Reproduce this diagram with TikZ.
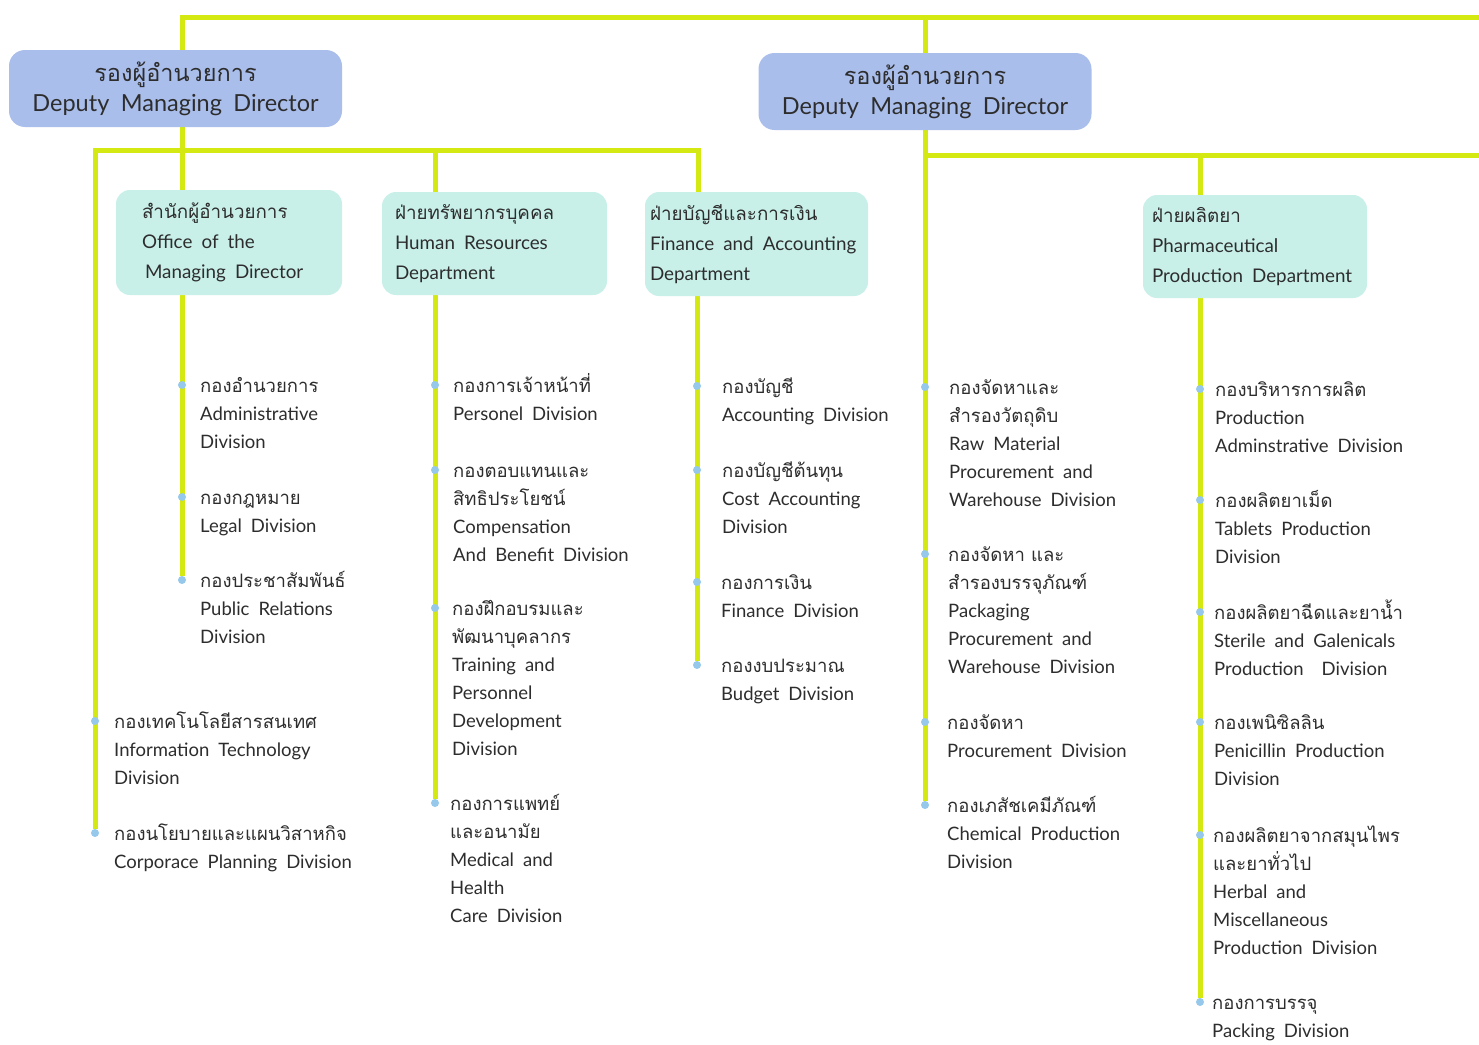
\documentclass[tikz,border=0pt]{standalone}
\usepackage{fontspec}
\setmainfont[WordSpace=1.9]{Lato}
\newfontfamily\thaifont[Script=Thai]{Loma}
\newcommand\thx[1]{{\thaifont #1}}
\definecolor{lime}{RGB}{212,232,18}
\definecolor{dmdblue}{RGB}{170,190,236}
\definecolor{deptcyan}{RGB}{200,240,233}
\definecolor{bulblue}{RGB}{150,200,235}
\definecolor{ink}{RGB}{45,45,45}
\pgfdeclarelayer{bgfill}
\pgfdeclarelayer{background}
\pgfsetlayers{bgfill,background,main}
\tikzset{
  conn/.style={draw=lime, line width=5pt},
  dmdbox/.style={rounded corners=16pt, fill=dmdblue, minimum width=333pt, minimum height=77pt, inner sep=0pt, align=center, text=ink, font=\fontsize{23.5}{30}\selectfont},
  deptbox/.style={rounded corners=14pt, fill=deptcyan, inner sep=0pt},
  depttext/.style={anchor=west, align=left, inner sep=0pt, text=ink, font=\fontsize{18.8}{30}\selectfont},
  bul/.style={circle, fill=bulblue, inner sep=0pt, minimum size=8pt},
  divtext/.style={anchor=north west, align=left, inner sep=0pt, text=ink, font=\fontsize{18.5}{28}\selectfont, yshift=12.6pt}
}
\newcommand\DivItem[5]{%
  \node[bul] (#1-b) at (#2,#3) {};
  \node[divtext] (#1) at (#4,#3) {\strut #5};}
\begin{document}
\begin{tikzpicture}[x=1pt,y=-1pt]
\useasboundingbox (0,0) rectangle (1479,1044);
\begin{pgfonlayer}{bgfill}
\fill[white] (0,0) rectangle (1479,1044);
\end{pgfonlayer}
% deputy boxes
\node[dmdbox] (d1) at (175.5,88.5) {\thx{รองผู้อำนวยการ}\\Deputy Managing Director};
\node[dmdbox] (d2) at (925,91.5) {\thx{รองผู้อำนวยการ}\\Deputy Managing Director};
% department boxes
\node[deptbox, minimum width=226pt, minimum height=105pt] (off) at (229,242.5) {};
\node[depttext] (off-t) at ([xshift=26pt]off.west) {\thx{สำนักผู้อำนวยการ}\\Office of the\\\hspace*{3pt}Managing Director};
\node[deptbox, minimum width=225pt, minimum height=103pt] (hr) at (494.5,243.5) {};
\node[depttext] (hr-t) at ([xshift=13pt]hr.west) {\thx{ฝ่ายทรัพยากรบุคคล}\\Human Resources\\Department};
\node[deptbox, minimum width=223pt, minimum height=104pt] (dfin) at (756.5,244) {};
\node[depttext] (dfin-t) at ([xshift=5pt]dfin.west) {\thx{ฝ่ายบัญชีและการเงิน}\\Finance and Accounting\\Department};
\node[deptbox, minimum width=224pt, minimum height=103pt] (ph) at (1255,246.5) {};
\node[depttext] (ph-t) at ([xshift=9pt]ph.west) {\thx{ฝ่ายผลิตยา}\\Pharmaceutical\\Production Department};
% divisions
\DivItem{admin}{182}{385}{200}{\thx{กองอำนวยการ}\\Administrative\\Division}
\DivItem{legal}{182}{497}{200}{\thx{กองกฎหมาย}\\Legal Division}
\DivItem{pr}{182}{580}{200}{\thx{กองประชาสัมพันธ์}\\Public Relations\\Division}
\DivItem{it}{95}{721}{114}{\thx{กองเทคโนโลยีสารสนเทศ}\\Information Technology\\Division}
\DivItem{corp}{95}{833}{114}{\thx{กองนโยบายและแผนวิสาหกิจ}\\Corporace Planning Division}
\DivItem{pers}{435}{385}{453}{\thx{กองการเจ้าหน้าที่}\\Personel Division}
\DivItem{comp}{435}{470}{453}{\thx{กองตอบแทนและ}\\\thx{สิทธิประโยชน์}\\Compensation\\And Benefit Division}
\DivItem{train}{435}{608}{452}{\thx{กองฝึกอบรมและ}\\\thx{พัฒนาบุคลากร}\\Training and\\Personnel\\Development\\Division}
\DivItem{med}{435}{803}{450}{\thx{กองการแพทย์}\\\thx{และอนามัย}\\Medical and\\Health\\Care Division}
\DivItem{acc}{697}{386}{722}{\thx{กองบัญชี}\\Accounting Division}
\DivItem{cost}{697}{470}{722}{\thx{กองบัญชีต้นทุน}\\Cost Accounting\\Division}
\DivItem{fin}{697}{582}{721}{\thx{กองการเงิน}\\Finance Division}
\DivItem{bud}{697}{665}{721}{\thx{กองงบประมาณ}\\Budget Division}
\DivItem{raw}{925}{387}{949}{\thx{กองจัดหาและ}\\\thx{สำรองวัตถุดิบ}\\Raw Material\\Procurement and\\Warehouse Division}
\DivItem{pkg}{925}{554}{948}{\thx{กองจัดหา และ}\\\thx{สำรองบรรจุภัณฑ์}\\Packaging\\Procurement and\\Warehouse Division}
\DivItem{proc}{925}{722}{947}{\thx{กองจัดหา}\\Procurement Division}
\DivItem{chem}{925}{805}{947}{\thx{กองเภสัชเคมีภัณฑ์}\\Chemical Production\\Division}
\DivItem{padm}{1200}{389}{1215}{\thx{กองบริหารการผลิต}\\Production\\Adminstrative Division}
\DivItem{tab}{1200}{500}{1215}{\thx{กองผลิตยาเม็ด}\\Tablets Production\\Division}
\DivItem{ster}{1200}{612}{1214}{\thx{กองผลิตยาฉีดและยาน้ำ}\\Sterile and Galenicals\\Production\ \ Division}
\DivItem{pen}{1200}{722}{1214}{\thx{กองเพนิซิลลิน}\\Penicillin Production\\Division}
\DivItem{herb}{1200}{835}{1213}{\thx{กองผลิตยาจากสมุนไพร}\\\thx{และยาทั่วไป}\\Herbal and\\Miscellaneous\\Production Division}
\DivItem{packg}{1200}{1002}{1212}{\thx{กองการบรรจุ}\\Packing Division}
% connectors
\coordinate (top1) at (182,17);
\coordinate (topR) at (1485,17);
\coordinate (h1L) at (95,150);
\coordinate (h1H) at (435,150);
\coordinate (h1R) at (698,150);
\coordinate (h2P) at (1200,155);
\coordinate (h2R) at (1485,155);
\begin{pgfonlayer}{background}
\draw[conn] (top1 |- d1.north) -- (top1) -- (topR);
\draw[conn] (d2.north) -- (d2.north |- topR);
\draw[conn] (top1 |- d1.south) -- (top1 |- off.north);
\draw[conn] (corp-b) -- (h1L) -- (h1R) -- (h1R |- dfin.north);
\draw[conn] (h1H) -- (h1H |- hr.north);
\draw[conn] (top1 |- off.south) -- (pr-b);
\draw[conn] (med-b |- hr.south) -- (med-b);
\draw[conn] (bud-b |- dfin.south) -- (bud-b);
\draw[conn] (d2.south) -- (chem-b);
\draw[conn] (chem-b |- h2P) -- (h2R);
\draw[conn] (h2P) -- (h2P |- ph.north);
\draw[conn] (packg-b |- ph.south) -- (packg-b);
\end{pgfonlayer}
\end{tikzpicture}
\end{document}
